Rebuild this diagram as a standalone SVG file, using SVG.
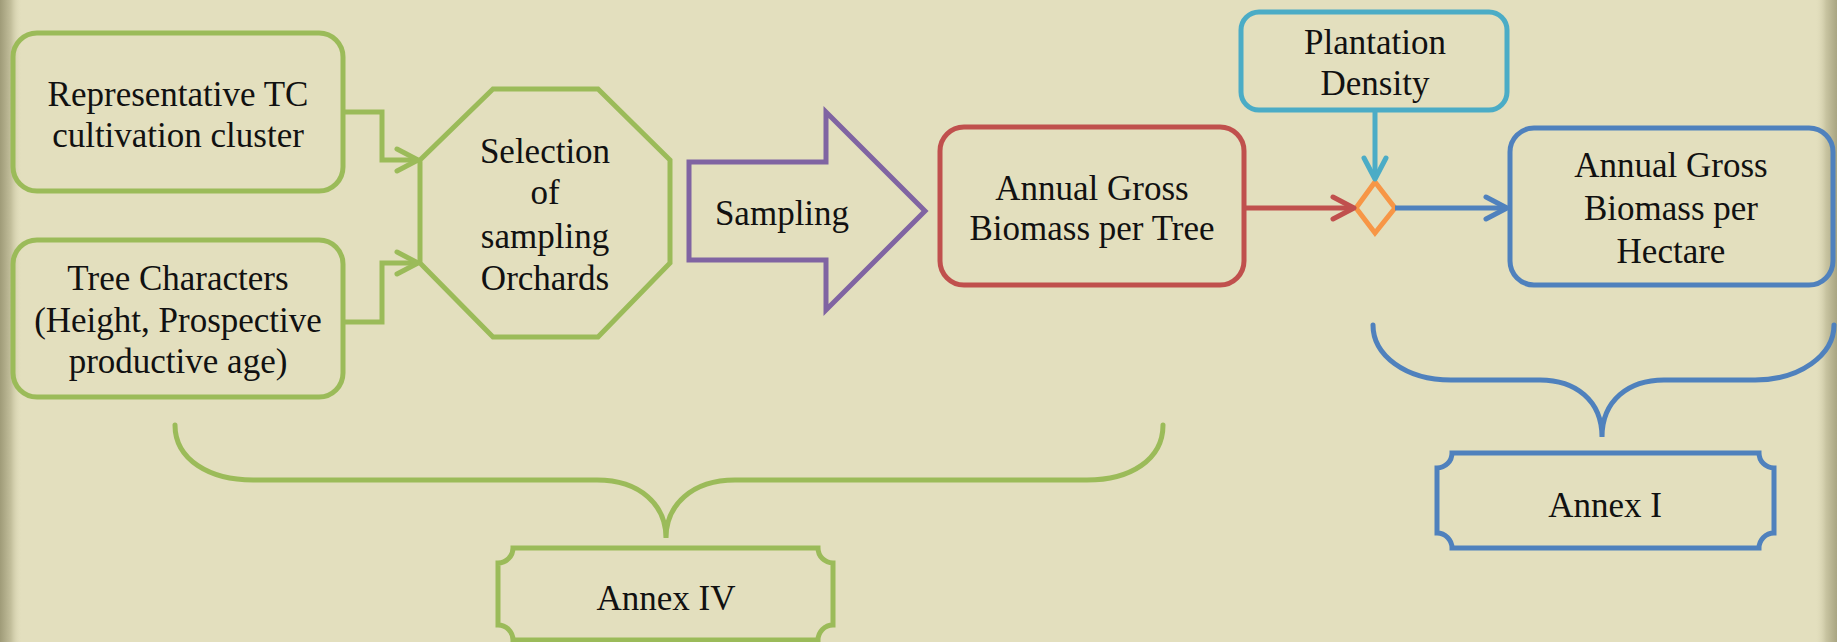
<svg xmlns="http://www.w3.org/2000/svg" width="1837" height="642" viewBox="0 0 1837 642">
<defs>
<style>
.t{font-family:"Liberation Serif","Times New Roman",serif;font-size:35px;fill:#111;text-anchor:middle}
.g{fill:none;stroke:#9BBB59;stroke-width:5}
.bl{fill:none;stroke:#4F81BD;stroke-width:5}
.rd{fill:none;stroke:#C0504D;stroke-width:5}
.cy{fill:none;stroke:#4BACC6;stroke-width:5}
.pu{fill:none;stroke:#8064A2;stroke-width:5}
.or{fill:none;stroke:#F79646;stroke-width:5}
</style>
<linearGradient id="lg" x1="0" y1="0" x2="1" y2="0">
<stop offset="0" stop-color="#9f9b78"/>
<stop offset="0.5" stop-color="#c3bf9c"/>
<stop offset="1" stop-color="#e3dfbe" stop-opacity="0"/>
</linearGradient>
<linearGradient id="rg" x1="1" y1="0" x2="0" y2="0">
<stop offset="0" stop-color="#a9a582"/>
<stop offset="0.5" stop-color="#c8c4a1"/>
<stop offset="1" stop-color="#e3dfbe" stop-opacity="0"/>
</linearGradient>
<marker id="ag" markerWidth="40" markerHeight="40" viewBox="-30 -20 40 40" refX="0" refY="0" orient="auto" markerUnits="userSpaceOnUse"><path d="M-21,-11 L0,0 L-21,11" fill="none" stroke="#9BBB59" stroke-width="5" stroke-linecap="round" stroke-linejoin="round"/></marker>
<marker id="ar" markerWidth="40" markerHeight="40" viewBox="-30 -20 40 40" refX="0" refY="0" orient="auto" markerUnits="userSpaceOnUse"><path d="M-21,-11 L0,0 L-21,11" fill="none" stroke="#C0504D" stroke-width="5" stroke-linecap="round" stroke-linejoin="round"/></marker>
<marker id="ac" markerWidth="40" markerHeight="40" viewBox="-30 -20 40 40" refX="0" refY="0" orient="auto" markerUnits="userSpaceOnUse"><path d="M-21,-11 L0,0 L-21,11" fill="none" stroke="#4BACC6" stroke-width="5" stroke-linecap="round" stroke-linejoin="round"/></marker>
<marker id="ab" markerWidth="40" markerHeight="40" viewBox="-30 -20 40 40" refX="0" refY="0" orient="auto" markerUnits="userSpaceOnUse"><path d="M-21,-11 L0,0 L-21,11" fill="none" stroke="#4F81BD" stroke-width="5" stroke-linecap="round" stroke-linejoin="round"/></marker>
</defs>
<rect x="0" y="0" width="1837" height="642" fill="#e3dfbe"/>
<rect x="0" y="0" width="22" height="642" fill="url(#lg)"/>
<rect x="1815" y="0" width="22" height="642" fill="url(#rg)"/>

<g id="n-cluster">
<rect class="g" x="13" y="33" width="330" height="158" rx="24"/>
<text class="t" x="178" y="106">Representative TC</text>
<text class="t" x="178" y="147">cultivation cluster</text>
</g>
<g id="n-tree">
<rect class="g" x="13" y="240" width="330" height="157" rx="24"/>
<text class="t" x="178" y="290">Tree Characters</text>
<text class="t" x="178" y="332">(Height, Prospective</text>
<text class="t" x="178" y="373">productive age)</text>
</g>
<g id="n-selection">
<polygon class="g" points="493,89 598,89 670,160 670,263 598,337 493,337 420,263 420,160"/>
<text class="t" x="545" y="163">Selection</text>
<text class="t" x="545" y="204">of</text>
<text class="t" x="545" y="248">sampling</text>
<text class="t" x="545" y="290">Orchards</text>
</g>
<g id="n-sampling">
<polygon class="pu" points="689,162 826,162 826,112 925,211 826,310 826,260 689,260"/>
<text class="t" x="782" y="225">Sampling</text>
</g>
<g id="n-tree-biomass">
<rect class="rd" x="940" y="127" width="304" height="158" rx="24"/>
<text class="t" x="1092" y="200">Annual Gross</text>
<text class="t" x="1092" y="240">Biomass per Tree</text>
</g>
<g id="n-density">
<rect class="cy" x="1241" y="12" width="266" height="98" rx="18"/>
<text class="t" x="1375" y="54">Plantation</text>
<text class="t" x="1375" y="95">Density</text>
</g>
<g id="n-merge">
<polygon class="or" points="1375,182 1395,208 1375,233 1356,208"/>
</g>
<g id="n-hectare-biomass">
<rect class="bl" x="1510" y="128" width="323" height="157" rx="24"/>
<text class="t" x="1671" y="177">Annual Gross</text>
<text class="t" x="1671" y="220">Biomass per</text>
<text class="t" x="1671" y="263">Hectare</text>
</g>
<g id="n-annex4">
<path class="g" d="M513,548 L818,548 A15 15 0 0 0 833,563 L833,625 A15 15 0 0 0 818,640 L513,640 A15 15 0 0 0 498,625 L498,563 A15 15 0 0 0 513,548 Z"/>
<text class="t" x="666" y="610">Annex IV</text>
</g>
<g id="n-annex1">
<path class="bl" d="M1452,453 L1759,453 A15 15 0 0 0 1774,468 L1774,533 A15 15 0 0 0 1759,548 L1452,548 A15 15 0 0 0 1437,533 L1437,468 A15 15 0 0 0 1452,453 Z"/>
<text class="t" x="1605" y="517">Annex I</text>
</g>

<g id="connectors">
<path class="g" d="M343,112 L382,112 L382,160 L418,160" marker-end="url(#ag)"/>
<path class="g" d="M343,322 L382,322 L382,263 L418,263" marker-end="url(#ag)"/>
<path class="rd" d="M1244,208 L1354,208" marker-end="url(#ar)"/>
<path class="cy" d="M1375,110 L1375,179" marker-end="url(#ac)"/>
<path class="bl" d="M1395,208 L1507,208" marker-end="url(#ab)"/>
</g>
<g id="brace-annex4">
<path class="g" stroke-linecap="round" d="M175,425 C175,460 210,480 253,480 L597,480 C640,480 666,505 666,538 C666,505 692,480 735,480 L1087,480 C1130,480 1163,460 1163,425"/>
</g>
<g id="brace-annex1">
<path class="bl" stroke-linecap="round" d="M1373,325 C1373,355 1405,380 1451,380 L1540,380 C1575,380 1602,400 1602,437 C1602,400 1629,380 1664,380 L1755,380 C1800,380 1834,355 1834,325"/>
</g>
</svg>
